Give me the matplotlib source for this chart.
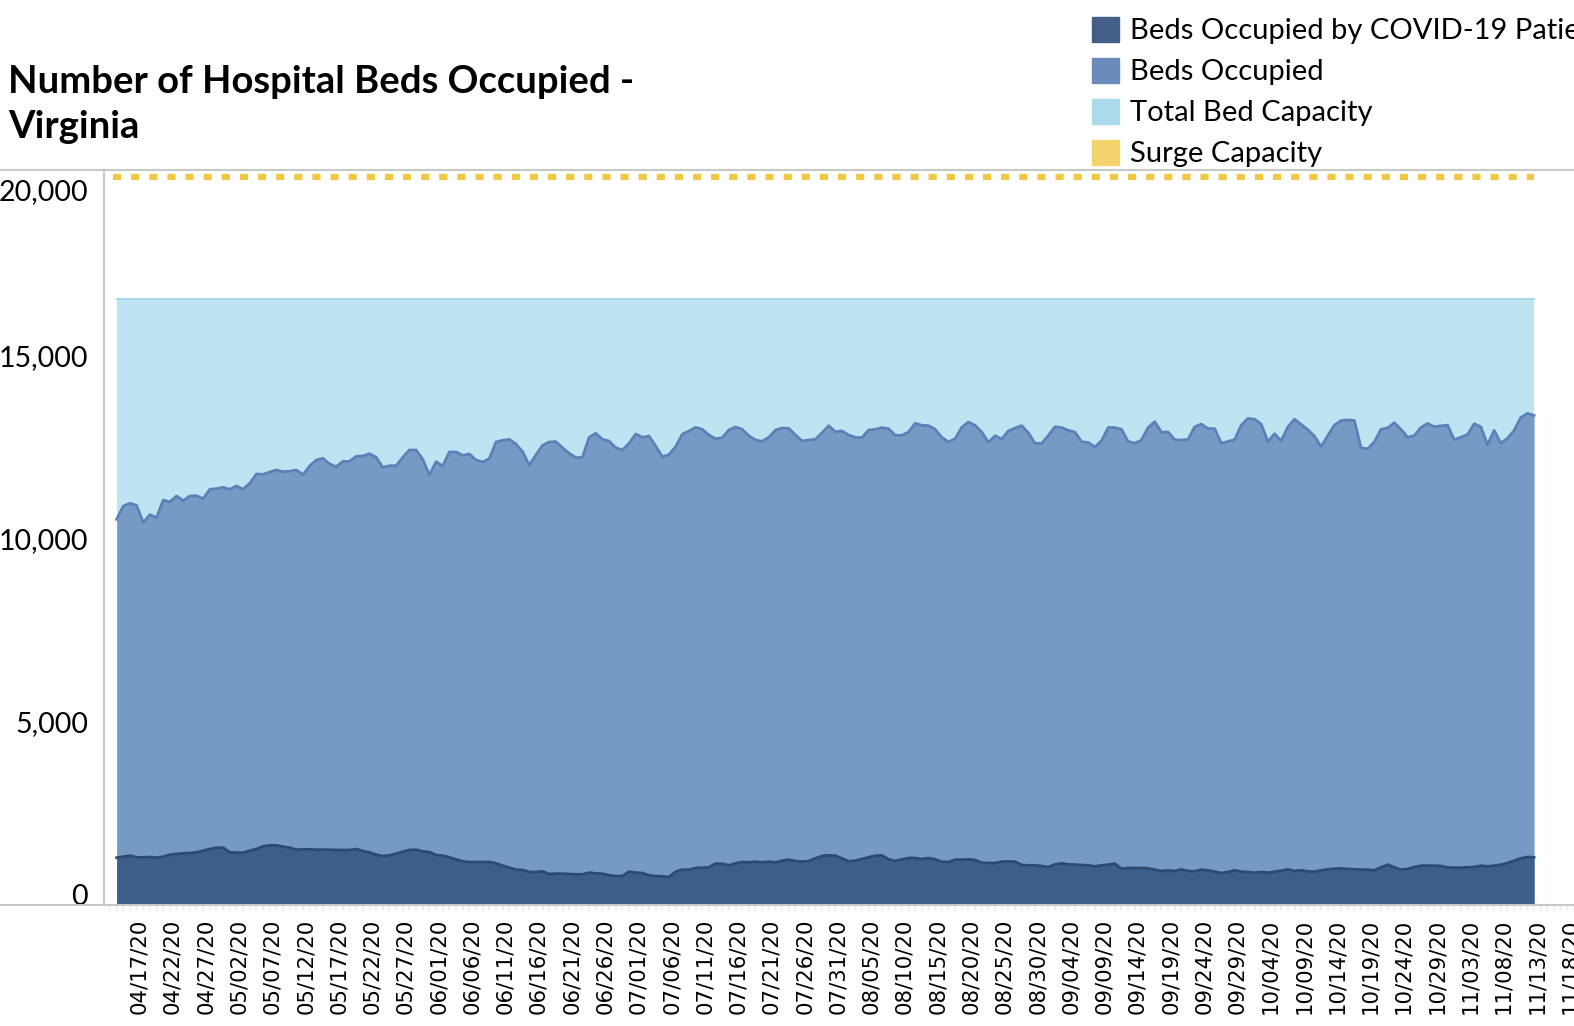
import numpy as np
import pandas as pd
import matplotlib
matplotlib.use("Agg")
import matplotlib.pyplot as plt
import matplotlib.dates as mdates
import matplotlib.transforms as mtransforms
from matplotlib.patches import Patch
from matplotlib.lines import Line2D

# daily values, 04/14/20 .. 11/13/20
dates = pd.date_range("2020-04-14", "2020-11-13", freq="D")

beds_occupied = [
    10537, 10901, 10974, 10919, 10446, 10664, 10582, 11065, 11010, 11174,
    11046, 11174, 11183, 11101, 11356, 11374, 11411, 11356, 11447, 11356,
    11520, 11775, 11766, 11830, 11884, 11839, 11848, 11884, 11757, 11993,
    12157, 12203, 12048, 11975, 12121, 12121, 12258, 12267, 12330, 12231,
    11957, 12002, 12002, 12231, 12431, 12431, 12176, 11748, 12112, 11993,
    12376, 12376, 12285, 12321, 12157, 12103, 12194, 12649, 12695, 12722,
    12595, 12385, 12021, 12294, 12558, 12649, 12658, 12494, 12340, 12221,
    12231, 12777, 12887, 12722, 12676, 12494, 12431, 12613, 12868, 12777,
    12813, 12540, 12248, 12303, 12522, 12859, 12950, 13050, 12995, 12840,
    12740, 12767, 12977, 13059, 12995, 12822, 12704, 12667, 12777, 12977,
    13032, 13023, 12840, 12676, 12704, 12722, 12904, 13095, 12931, 12950,
    12840, 12777, 12767, 12977, 12995, 13041, 13013, 12832, 12832, 12922,
    13160, 13105, 13095, 12995, 12777, 12649, 12740, 13050, 13196, 13105,
    12922, 12640, 12822, 12731, 12950, 13032, 13095, 12901, 12617, 12608,
    12825, 13063, 13044, 12968, 12920, 12654, 12636, 12513, 12683, 13044,
    13044, 12996, 12663, 12617, 12701, 13044, 13204, 12920, 12920, 12712,
    12701, 12720, 13063, 13138, 13015, 13015, 12617, 12663, 12712, 13110,
    13291, 13272, 13138, 12654, 12873, 12683, 13063, 13272, 13130, 12985,
    12805, 12521, 12825, 13110, 13234, 13253, 13234, 12493, 12463, 12654,
    12996, 13034, 13176, 12996, 12778, 12825, 13044, 13157, 13063, 13092,
    13110, 12712, 12778, 12854, 13148, 13063, 12570, 12968, 12617, 12750,
    12968, 13319, 13432, 13376,
]

covid_beds = [
    1293, 1321, 1348, 1302, 1302, 1311, 1293, 1321, 1375, 1393,
    1411, 1421, 1439, 1485, 1530, 1567, 1567, 1439, 1430, 1430,
    1485, 1530, 1603, 1630, 1630, 1594, 1567, 1512, 1521, 1521,
    1512, 1512, 1512, 1503, 1503, 1503, 1530, 1475, 1439, 1375,
    1339, 1357, 1403, 1457, 1503, 1512, 1466, 1448, 1366, 1348,
    1302, 1248, 1193, 1175, 1175, 1175, 1175, 1138, 1075, 1020,
    966, 956, 902, 902, 920, 847, 856, 856, 847, 838,
    838, 884, 865, 856, 811, 792, 792, 911, 884, 874,
    811, 792, 783, 765, 911, 966, 966, 1011, 1020, 1029,
    1129, 1129, 1084, 1138, 1175, 1166, 1184, 1166, 1184, 1166,
    1211, 1239, 1202, 1184, 1202, 1275, 1339, 1357, 1348, 1275,
    1193, 1211, 1257, 1302, 1348, 1357, 1248, 1202, 1248, 1284,
    1284, 1257, 1284, 1248, 1184, 1175, 1239, 1239, 1248, 1229,
    1157, 1147, 1147, 1184, 1193, 1184, 1093, 1084, 1084, 1065,
    1038, 1111, 1139, 1111, 1102, 1093, 1084, 1056, 1084, 1102,
    1129, 993, 1011, 1011, 1011, 1002, 966, 929, 947, 929,
    974, 929, 920, 966, 947, 911, 874, 902, 947, 911,
    902, 884, 902, 884, 911, 938, 974, 929, 947, 920,
    911, 947, 974, 993, 1002, 984, 974, 966, 966, 947,
    1029, 1102, 1029, 966, 984, 1038, 1075, 1075, 1075, 1065,
    1029, 1020, 1020, 1029, 1038, 1075, 1056, 1075, 1102, 1148,
    1211, 1275, 1311, 1302,
]

total_bed_capacity = 16550
surge_capacity = 19900

legend_labels = ["Beds Occupied by COVID-19 Patients", "Beds Occupied",
                 "Total Bed Capacity", "Surge Capacity"]
y_ticks = [0, 5000, 10000, 15000, 20000]

fig = plt.figure(figsize=(15.74, 10.26), dpi=100)
ax = fig.add_axes([104 / 1574, 1 - 905 / 1026, 1 - 104 / 1574, (905 - 170) / 1026])

x = mdates.date2num(dates)
ax.fill_between(x, 0, total_bed_capacity, color="#bee4f2", lw=0)
ax.plot([x[0], x[-1]], [total_bed_capacity] * 2, color="#a8d8ec", lw=1.5)
ax.fill_between(x, 0, beds_occupied, color="#759bc5", lw=0)
ax.plot(x, beds_occupied, color="#5a82b8", lw=2)
ax.fill_between(x, 0, covid_beds, color="#3b5e8a", lw=0)
ax.plot(x, covid_beds, color="#2c4b73", lw=2)
ax.plot([x[0] - 0.5, x[-1]], [surge_capacity] * 2, color="#f0c843", lw=4.5,
        linestyle=(0, (1.3, 1.6)), dash_capstyle="butt")

ax.set_xlim(x[0] - 1.9, x[-1] + 5.5)
ax.set_ylim(0, 20080)

ax.set_yticks(y_ticks)
ax.set_yticklabels([f"{v:,}" for v in y_ticks], fontfamily="Lato", fontsize=20.5)
ax.tick_params(axis="y", length=0, pad=11.5)
labs = ax.get_yticklabels()
labs[0].set_verticalalignment("bottom")
labs[-1].set_verticalalignment("top")
# nudge the end labels down a little, like the original
for lab, dy in [(labs[0], -5), (labs[-1], -6)]:
    lab.set_transform(lab.get_transform() +
                      mtransforms.ScaledTranslation(0, dy / 100, fig.dpi_scale_trans))

major = pd.date_range("2020-04-17", "2020-11-18", freq="5D")
ax.set_xticks(mdates.date2num(major) + 0.4)
ax.set_xticklabels([d.strftime("%m/%d/%y") for d in major], rotation=90,
                   fontsize=15.3, fontfamily="DejaVu Sans")
ax.set_xticks(x[0] - 1 + np.arange(0, 221), minor=True)
ax.tick_params(axis="x", which="major", length=0, pad=10)
ax.tick_params(axis="x", which="minor", length=4, width=1.5, color="#f0f0f0")

for s in ["top", "right", "bottom"]:
    ax.spines[s].set_visible(False)
ax.spines["left"].set_color("#c8c8c8")
ax.spines["left"].set_linewidth(1.5)

for yy in [170, 905]:
    fig.add_artist(Line2D([0, 1], [1 - yy / 1026] * 2, transform=fig.transFigure,
                          color="#c8c8c8", lw=1.5))

fig.text(8 / 1574, 1 - 65 / 1026, "Number of Hospital Beds Occupied -\nVirginia",
         fontfamily="Lato", fontweight="bold", fontsize=27.5, va="top", ha="left",
         linespacing=1.38)

handles = [Patch(color=c) for c in ["#435f88", "#6b8bbd", "#acdcec", "#f3d36b"]]
fig.legend(handles, legend_labels, loc="upper left",
           bbox_to_anchor=(1092 / 1574, 1 - 17 / 1026), frameon=False,
           prop={"family": "Lato", "size": 21}, handlelength=0.92, handleheight=0.92,
           handletextpad=0.38, labelspacing=0.47, borderpad=0, borderaxespad=0)

fig.savefig("out.png", dpi=100)
